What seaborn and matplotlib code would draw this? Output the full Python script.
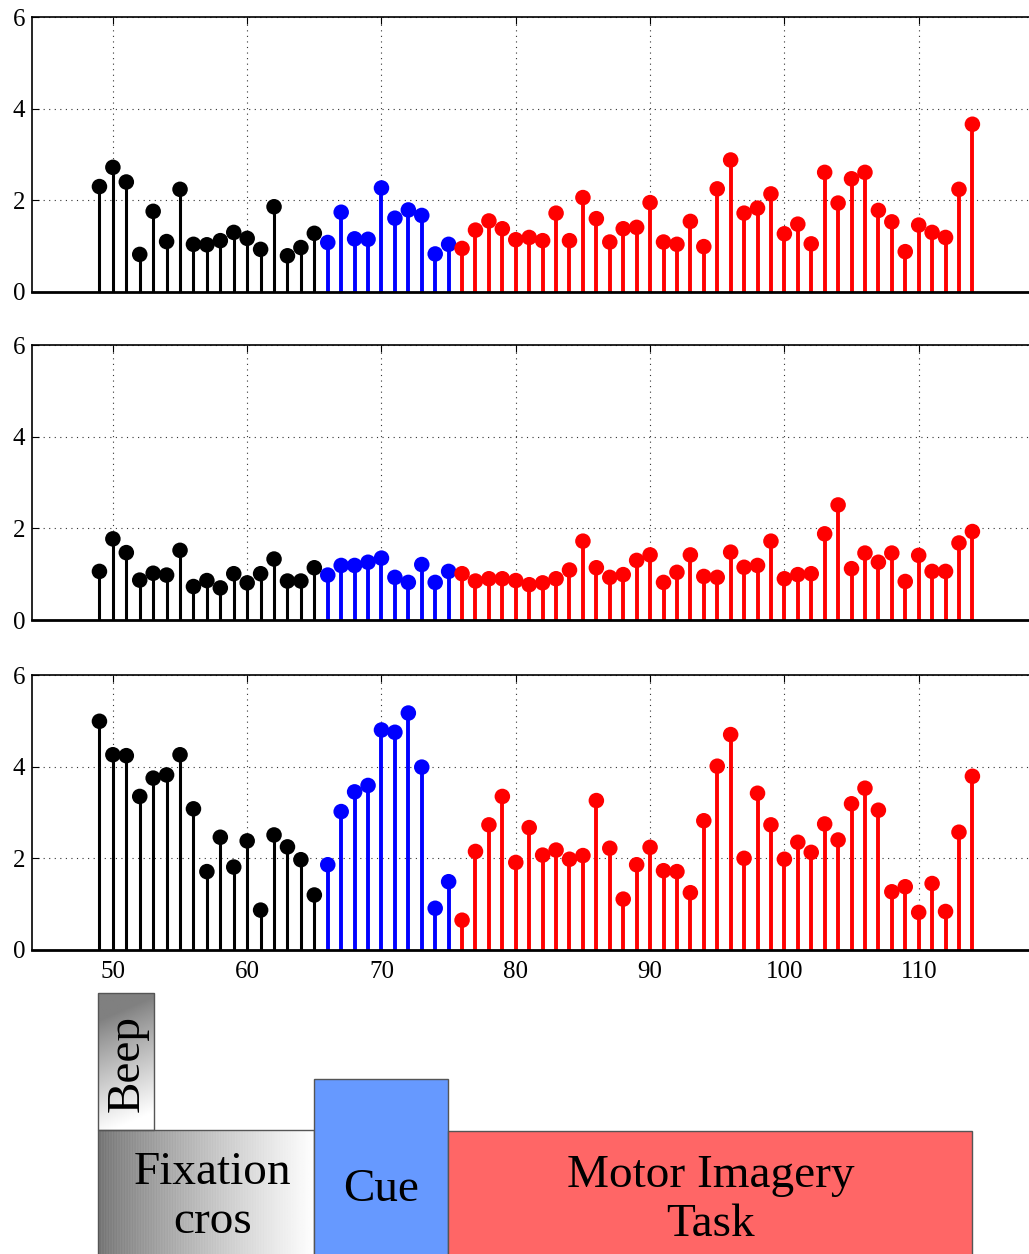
import numpy as np
import pandas as pd
import matplotlib
matplotlib.use("Agg")
import matplotlib.pyplot as plt
import seaborn as sns
from matplotlib.patches import Rectangle

sns.set_style("white")
plt.rcParams['font.family'] = ['Liberation Serif', 'DejaVu Serif']
for k in ["text.color", "axes.labelcolor", "xtick.color", "ytick.color"]:
    plt.rcParams[k] = "black"

# ---------------- data ----------------
samples = list(range(49, 115))
phase_names = ["Fixation", "Cue", "Motor Imagery"]
phase_first = [49, 66, 76]
phase_last = [65, 75, 114]
phase_colors = {"Fixation": "#000000", "Cue": "#0000FF", "Motor Imagery": "#FF0000"}

panel1 = [2.30, 2.72, 2.40, 0.82, 1.76, 1.10, 2.24, 1.04, 1.03, 1.12, 1.30, 1.17, 0.93, 1.86, 0.79, 0.97, 1.28,
          1.08, 1.74, 1.16, 1.15, 2.27, 1.61, 1.79, 1.67, 0.83, 1.04,
          0.95, 1.35, 1.55, 1.38, 1.14, 1.19, 1.12, 1.72, 1.12, 2.06, 1.60, 1.09, 1.38, 1.41, 1.95, 1.09, 1.04,
          1.54, 0.99, 2.25, 2.88, 1.72, 1.83, 2.14, 1.27, 1.48, 1.05, 2.61, 1.94, 2.47, 2.61, 1.78, 1.53, 0.88,
          1.46, 1.30, 1.19, 2.24, 3.66]
panel2 = [1.06, 1.77, 1.47, 0.87, 1.02, 0.98, 1.52, 0.73, 0.86, 0.70, 1.01, 0.81, 1.01, 1.33, 0.85, 0.85, 1.14,
          0.98, 1.19, 1.19, 1.26, 1.35, 0.93, 0.82, 1.21, 0.82, 1.06,
          1.01, 0.85, 0.90, 0.90, 0.86, 0.77, 0.81, 0.90, 1.09, 1.72, 1.14, 0.93, 0.99, 1.30, 1.42, 0.82, 1.04,
          1.42, 0.95, 0.93, 1.48, 1.15, 1.19, 1.72, 0.90, 0.99, 1.01, 1.88, 2.51, 1.12, 1.46, 1.26, 1.46, 0.84,
          1.41, 1.06, 1.06, 1.68, 1.93]
panel3 = [4.99, 4.26, 4.24, 3.35, 3.75, 3.82, 4.26, 3.08, 1.71, 2.46, 1.81, 2.38, 0.87, 2.51, 2.25, 1.97, 1.20,
          1.86, 3.02, 3.45, 3.59, 4.80, 4.75, 5.17, 3.99, 0.91, 1.49,
          0.65, 2.15, 2.73, 3.35, 1.91, 2.67, 2.07, 2.18, 1.98, 2.06, 3.26, 2.22, 1.11, 1.86, 2.24, 1.73, 1.71,
          1.25, 2.82, 4.01, 4.70, 2.00, 3.42, 2.73, 1.98, 2.35, 2.13, 2.75, 2.40, 3.19, 3.53, 3.05, 1.27, 1.38,
          0.82, 1.45, 0.84, 2.57, 3.79]

x_ticks = [50, 60, 70, 80, 90, 100, 110]
y_ticks = [0, 2, 4, 6]

# timeline diagram blocks (x in sample units, height in diagram units)
block_labels = ["Beep", "Fixation\ncros", "Cue", "Motor Imagery\nTask"]
block_start = [48.88, 48.88, 64.98, 74.96]
block_end = [53.05, 64.98, 74.96, 113.98]
block_bottom = [124, -10, -10, -10]
block_top = [261, 124, 175, 123]
block_fill = ["gradient_diag", "gradient_horiz", "#6699FF", "#FF6666"]


def phase_of(s):
    for name, a, b in zip(phase_names, phase_first, phase_last):
        if a <= s <= b:
            return name
    return None


W, H = 1029, 1254
fig = plt.figure(figsize=(W / 100, H / 100), dpi=100)

left = 32.3 / W
width = 1.0 - left
px_per_unit = 13.43
xlim = (44, 44 + (W - 32.3) / px_per_unit)

panel_px = [(17, 292), (345, 620), (675, 950)]
panels = [panel1, panel2, panel3]

for i, ((top_px, bot_px), vals) in enumerate(zip(panel_px, panels)):
    ax = fig.add_axes([left, 1 - bot_px / H, width, (bot_px - top_px) / H])
    df = pd.DataFrame({"x": samples, "v": vals})
    df["phase"] = df["x"].map(phase_of)
    for name in phase_names:
        sub = df[df["phase"] == name]
        lw = 2.2 if name == "Fixation" else 2.8
        ax.vlines(sub["x"], 0, sub["v"], colors=phase_colors[name], linewidth=lw, zorder=2)
    sns.scatterplot(data=df, x="x", y="v", hue="phase", palette=phase_colors, s=125,
                    linewidth=0, legend=False, ax=ax, zorder=3)
    ax.set_xlim(*xlim)
    ax.set_ylim(0, 6)
    ax.set_xticks(x_ticks)
    ax.set_yticks(y_ticks)
    ax.set_xlabel("")
    ax.set_ylabel("")
    ax.grid(True, linestyle=(0, (1, 4)), color="#333333", linewidth=0.8)
    ax.set_axisbelow(True)
    ax.tick_params(direction="in", length=5, width=0.8, top=True, bottom=True, left=True, right=False,
                   labelsize=18, pad=5, colors="black")
    ax.tick_params(axis="x", pad=8)
    for sp in ["top", "left"]:
        ax.spines[sp].set_linewidth(1.2)
        ax.spines[sp].set_color("black")
    ax.spines["bottom"].set_linewidth(2.0)
    ax.spines["bottom"].set_color("black")
    ax.spines["right"].set_visible(False)
    if i < 2:
        ax.set_xticklabels([])

# ---------------- timeline diagram ----------------
axd = fig.add_axes([left, 0, width, 274 / H])
axd.set_xlim(*xlim)
axd.set_ylim(0, 274)
axd.axis("off")

for lab, x0, x1, y0, y1, fill in zip(block_labels, block_start, block_end, block_bottom, block_top, block_fill):
    if fill == "gradient_horiz":
        c = np.linspace(0, 1, 300)[None, :]
        stripes = 0.03 * np.sin(np.arange(300) * 1.7)[None, :] * (1 - c)
        img = np.clip(0.46 + 0.54 * c ** 0.85 + stripes, 0, 1)
        img = np.repeat(img, 10, axis=0)
        axd.imshow(img, extent=[x0, x1, y0, y1], cmap="gray", vmin=0, vmax=1, aspect="auto",
                   interpolation="bilinear", zorder=1)
    elif fill == "gradient_diag":
        r = np.linspace(0, 1, 200)[:, None]
        c = np.linspace(0, 1, 60)[None, :]
        t = np.clip((r - 0.18 * (1 - c) - 0.02) / 0.85, 0, 1)
        img = 0.5 + 0.5 * t ** 0.9
        img = np.where(r < 0.12 * (1 - c) + 0.02, 0.5, img)
        axd.imshow(img, extent=[x0, x1, y0, y1], cmap="gray", vmin=0, vmax=1, aspect="auto",
                   interpolation="bilinear", zorder=1)
    axd.add_patch(Rectangle((x0, y0), x1 - x0, y1 - y0,
                            facecolor=(fill if fill.startswith("#") else "none"),
                            edgecolor="#555555", linewidth=1.0, zorder=2, clip_on=False))

axd.set_xlim(*xlim)
axd.set_ylim(0, 274)

axd.text(51.1, 191, block_labels[0], rotation=90, ha="center", va="center", fontsize=34, zorder=4)
axd.text(57.4, 57, block_labels[1], ha="center", va="center", fontsize=34, linespacing=1.2, zorder=4)
axd.text(69.95, 64, block_labels[2], ha="center", va="center", fontsize=34, zorder=4)
axd.text(94.5, 54, block_labels[3], ha="center", va="center", fontsize=34, linespacing=1.2, zorder=4)

fig.savefig("out.png", dpi=100)
